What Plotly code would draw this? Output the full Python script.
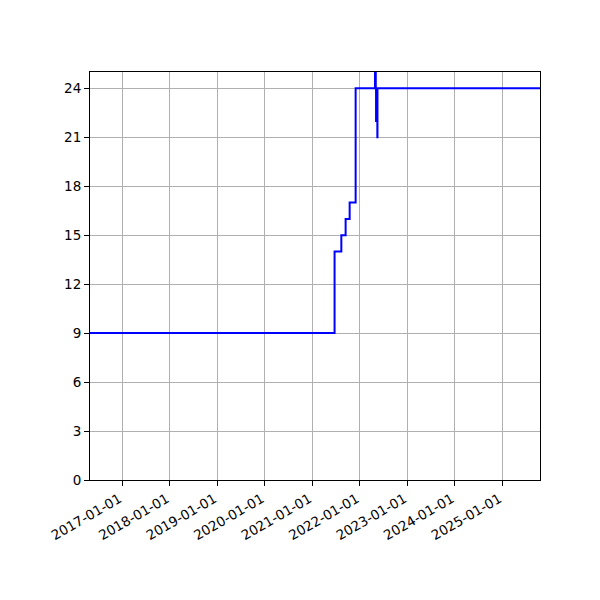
import plotly.graph_objects as go

dates = [
    "2016-04-27", "2021-06-21", "2021-08-12", "2021-09-14", "2021-10-15",
    "2021-11-30", "2022-04-28", "2022-05-04", "2022-05-06", "2022-05-09",
    "2022-05-16", "2022-05-17", "2025-10-18",
]
values = [9, 14, 15, 16, 17, 24, 28, 24, 22, 24, 21, 24, 24]

tick_vals = ["2017-01-01", "2018-01-01", "2019-01-01", "2020-01-01", "2021-01-01",
             "2022-01-01", "2023-01-01", "2024-01-01", "2025-01-01"]
y_ticks = [0, 3, 6, 9, 12, 15, 18, 21, 24]

fig = go.Figure()
fig.add_trace(go.Scatter(x=dates, y=values, mode="lines", line_shape="hv",
                         line=dict(color="#0000ff", width=2), showlegend=False))

axis_common = dict(showline=True, linecolor="black", linewidth=1, mirror=True,
                   ticks="outside", ticklen=5, tickcolor="black",
                   showgrid=True, gridcolor="#b0b0b0", gridwidth=1, zeroline=False,
                   tickfont=dict(family="DejaVu Sans", size=13.5, color="black"))

fig.update_layout(
    width=600, height=600,
    margin=dict(l=82, r=68, t=64, b=128, autoexpand=False),
    plot_bgcolor="white", paper_bgcolor="white",
    xaxis=dict(range=["2016-04-27", "2025-10-18"], tickvals=tick_vals, ticktext=tick_vals,
               tickangle=-30, ticklabelshift=-3, automargin=False, **axis_common),
    yaxis=dict(range=[0, 25], tickvals=y_ticks, automargin=False, **axis_common),
)

fig.write_html("out.html")
